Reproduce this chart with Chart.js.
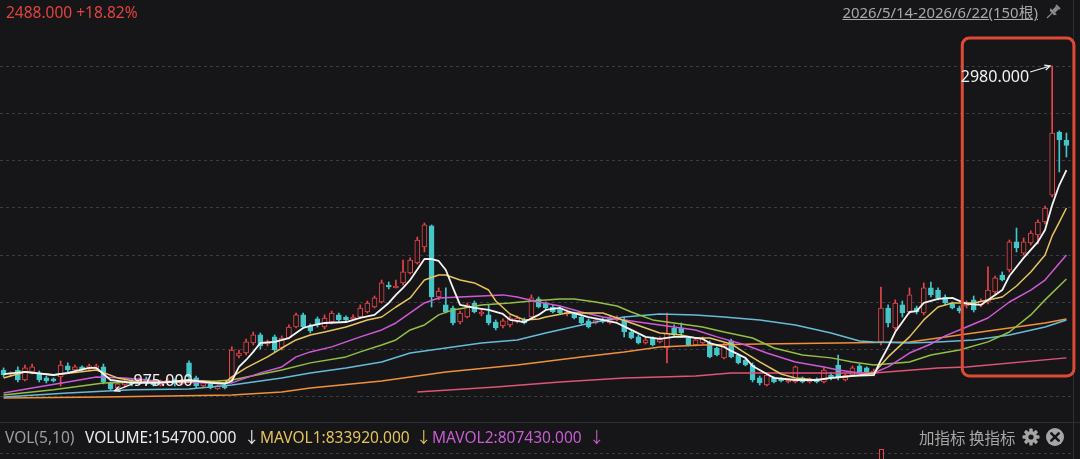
<!DOCTYPE html>
<html><head><meta charset="utf-8">
<script src="https://cdn.jsdelivr.net/npm/chart.js@4.4.1/dist/chart.umd.min.js"></script>
<style>
html,body{margin:0;padding:0;background:#161618;}
#wrap{position:relative;width:1080px;height:459px;overflow:hidden;background:#161618;font-family:"Noto Sans","Noto Sans CJK SC",sans-serif;}
canvas{position:absolute;left:0;top:0;}
.t{position:absolute;white-space:nowrap;font-size:15.5px;line-height:20px;}
svg{position:absolute;}
</style></head><body>
<div id="wrap">
<canvas id="c" width="1080" height="459"></canvas>
<div class="t" style="left:6px;top:2px;color:#e2443f;">2488.000 +18.82%</div>
<div class="t" style="right:42px;top:2px;color:#a8a8a8;text-decoration:underline;font-size:14.9px;">2026/5/14-2026/6/22(150根)</div>
<svg style="left:1044px;top:3px" width="18" height="18" viewBox="0 0 18 18">
  <g transform="rotate(45 9 9)" fill="#8c8c8c">
    <rect x="6" y="1" width="6" height="2" rx="1"/>
    <rect x="7" y="3" width="4" height="5"/>
    <path d="M4.5 8 H13.5 L12 10.5 H6 Z"/>
    <rect x="8.4" y="10.5" width="1.2" height="7"/>
  </g>
</svg>
<div class="t" style="left:5px;top:427px;color:#9e9e9e">VOL(5,10)</div>
<div class="t" style="left:85px;top:427px;color:#ececec">VOLUME:154700.000</div>
<div class="t" style="left:244px;top:427px;color:#ececec">↓</div>
<div class="t" style="left:260px;top:427px;color:#e3c35a">MAVOL1:833920.000</div>
<div class="t" style="left:416px;top:427px;color:#e3c35a">↓</div>
<div class="t" style="left:432px;top:427px;color:#c75cd2">MAVOL2:807430.000</div>
<div class="t" style="left:589px;top:427px;color:#c75cd2">↓</div>
<div class="t" style="left:919px;top:427px;color:#a6a6a6;font-family:'Noto Sans CJK SC',sans-serif;">加指标 换指标</div>
<svg style="left:1022px;top:428px" width="18" height="18" viewBox="0 0 18 18">
  <g fill="#a6a6a6">
    <circle cx="9" cy="9" r="6"/>
    <rect x="7.3" y="0.5" width="3.4" height="17" rx="0.8"/>
    <rect x="7.3" y="0.5" width="3.4" height="17" rx="0.8" transform="rotate(45 9 9)"/>
    <rect x="7.3" y="0.5" width="3.4" height="17" rx="0.8" transform="rotate(90 9 9)"/>
    <rect x="7.3" y="0.5" width="3.4" height="17" rx="0.8" transform="rotate(135 9 9)"/>
  </g>
  <circle cx="9" cy="9" r="2.6" fill="#161618"/>
</svg>
<svg style="left:1045px;top:427px" width="20" height="20" viewBox="0 0 20 20">
  <circle cx="10" cy="10" r="9" fill="#a6a6a6"/>
  <path d="M6.3 6.3 L13.7 13.7 M13.7 6.3 L6.3 13.7" stroke="#161618" stroke-width="2.6" stroke-linecap="round"/>
</svg>
</div>
<script>
// ---- candle data (150 bars) ----
const opens = [1098,1073,1098,1036,1086,1080,1049,1043,1055,1123,
1098,1117,1104,1104,1117,1018,987,1005,1030,1012,
1043,1024,1005,1018,1036,1012,1142,1049,999,1012,
981,999,1049,1185,1203,1265,1315,1259,1303,1234,
1296,1364,1439,1371,1414,1364,1395,1439,1426,1414,
1426,1457,1488,1519,1624,1606,1637,1699,1761,1860,
1990,1550,1501,1482,1395,1426,1513,1445,1439,1395,
1371,1377,1402,1408,1426,1538,1513,1488,1482,1445,
1445,1426,1402,1389,1408,1389,1408,1408,1333,1303,
1265,1296,1272,1234,1358,1358,1296,1253,1265,1265,
1234,1173,1278,1191,1160,1129,1049,1005,1049,1043,
1024,1024,1049,1024,1043,1024,1067,1129,1036,1067,
1123,1111,1073,1272,1482,1358,1501,1457,1482,1451,
1606,1593,1550,1507,1482,1494,1532,1501,1519,1581,
1686,1717,1891,1822,1884,1934,2014,2181,2571,2522];
const highs = [1111,1086,1117,1129,1135,1092,1061,1049,1154,1142,
1129,1123,1135,1135,1135,1024,1018,1043,1043,1049,
1055,1036,1036,1049,1043,1043,1154,1061,1030,1018,
1005,1005,1241,1222,1290,1333,1327,1284,1315,1309,
1377,1451,1451,1383,1426,1439,1463,1451,1433,1439,
1501,1525,1556,1655,1643,1655,1779,1792,1921,2008,
1996,1606,1606,1494,1463,1513,1525,1470,1501,1408,
1414,1433,1433,1420,1563,1550,1519,1501,1494,1470,
1457,1439,1414,1420,1420,1433,1433,1426,1346,1315,
1296,1303,1303,1451,1377,1389,1303,1290,1303,1278,
1241,1265,1290,1197,1166,1142,1061,1080,1055,1049,
1043,1123,1055,1049,1049,1111,1080,1191,1073,1123,
1135,1117,1104,1612,1501,1532,1525,1606,1494,1637,
1643,1606,1563,1519,1494,1525,1556,1538,1736,1680,
1705,1903,1977,1915,1959,2027,2113,2980,2578,2565];
const lows = [1055,1061,1024,1030,1073,1024,1018,1024,999,1086,
1092,1092,1092,1098,1012,975,981,993,999,1005,
1005,999,999,1005,999,1005,1043,987,987,981,
978,981,1036,1173,1191,1253,1228,1247,1210,1222,
1290,1358,1358,1327,1364,1352,1383,1402,1402,1408,
1420,1451,1482,1513,1600,1606,1624,1692,1754,1829,
1488,1532,1451,1377,1383,1420,1451,1433,1377,1346,
1358,1364,1389,1383,1414,1482,1476,1451,1445,1433,
1414,1383,1358,1383,1389,1383,1402,1303,1290,1259,
1259,1247,1265,1142,1309,1303,1247,1247,1259,1173,
1185,1166,1173,1135,1123,1024,1005,999,1018,1024,
1018,1018,1018,1018,1018,1018,1036,1036,1030,1061,
1080,1080,1061,1253,1364,1346,1426,1445,1445,1439,
1550,1532,1501,1476,1451,1482,1457,1488,1507,1569,
1649,1705,1829,1810,1872,1878,2002,2169,2324,2417];
const closes = [1067,1080,1036,1111,1117,1036,1030,1030,1129,1098,
1117,1098,1123,1123,1024,981,1012,1030,1012,1036,
1018,1005,1024,1036,1012,1030,1055,999,1018,987,
999,987,1222,1203,1272,1315,1247,1272,1222,1296,
1364,1439,1364,1340,1377,1420,1451,1408,1408,1426,
1482,1513,1544,1637,1612,1618,1705,1779,1903,1996,
1550,1587,1457,1389,1451,1501,1457,1457,1389,1358,
1402,1420,1420,1389,1544,1488,1482,1457,1451,1457,
1420,1389,1364,1408,1395,1420,1420,1333,1296,1265,
1284,1253,1290,1327,1315,1327,1253,1284,1296,1179,
1191,1253,1179,1142,1129,1036,1018,1067,1024,1030,
1036,1117,1024,1043,1024,1098,1049,1049,1067,1111,
1086,1086,1092,1482,1389,1513,1451,1563,1457,1606,
1563,1544,1513,1482,1463,1513,1470,1525,1593,1668,
1655,1891,1853,1891,1946,2014,2101,2565,2522,2488];

// ---- moving average lines as [bar index, value] ----
const ma5 = [[0,1073],[3,1086],[7,1067],[9,1080],[12,1111],[13,1111],[15,1036],[18,1018],[22,1018],[26,1036],[29,1018],[31,1012],[32,1030],[33,1117],[34,1160],[35,1210],[36,1265],[38,1272],[40,1296],[42,1358],[43,1371],[45,1389],[48,1395],[50,1420],[52,1439],[54,1513],[55,1563],[56,1606],[57,1655],[59,1785],[60,1785],[61,1773],[62,1717],[63,1606],[64,1501],[66,1482],[68,1470],[70,1445],[71,1408],[73,1395],[75,1439],[76,1470],[78,1482],[79,1463],[82,1426],[84,1408],[86,1389],[88,1346],[90,1303],[92,1290],[94,1303],[96,1303],[98,1290],[99,1265],[101,1241],[102,1216],[104,1173],[105,1123],[107,1073],[108,1049],[111,1036],[114,1036],[116,1049],[119,1061],[122,1067],[123,1160],[124,1241],[125,1333],[126,1395],[127,1457],[128,1463],[129,1513],[131,1538],[133,1544],[135,1507],[137,1501],[138,1532],[140,1593],[141,1680],[143,1792],[145,1891],[146,1965],[147,2119],[148,2243],[149,2336]];
const ma10 = [[0,1049],[3,1086],[7,1067],[13,1098],[16,1049],[19,1024],[25,1024],[28,1030],[31,1018],[32,1055],[34,1111],[37,1179],[39,1234],[41,1284],[43,1315],[45,1333],[48,1364],[51,1408],[53,1426],[55,1488],[57,1544],[58,1600],[59,1655],[61,1686],[62,1686],[64,1655],[66,1637],[68,1593],[69,1525],[71,1445],[73,1408],[75,1414],[76,1426],[79,1451],[81,1451],[84,1451],[86,1420],[88,1389],[90,1358],[92,1327],[95,1315],[97,1296],[99,1296],[102,1259],[104,1203],[106,1148],[109,1073],[111,1049],[114,1036],[116,1049],[118,1055],[122,1080],[124,1179],[127,1303],[129,1408],[131,1488],[133,1513],[136,1513],[140,1550],[142,1618],[144,1705],[146,1810],[147,1928],[148,2014],[149,2101]];
const ma20 = [[0,956],[4,987],[9,1024],[13,1055],[17,1049],[23,1024],[32,1018],[36,1080],[39,1117],[41,1179],[43,1210],[46,1241],[48,1272],[50,1303],[53,1346],[55,1389],[57,1451],[59,1513],[61,1544],[64,1550],[67,1556],[70,1563],[72,1550],[75,1519],[78,1494],[81,1457],[84,1426],[86,1414],[90,1389],[93,1371],[97,1346],[100,1303],[104,1253],[107,1203],[111,1148],[115,1117],[117,1098],[120,1080],[122,1080],[124,1117],[127,1203],[130,1259],[132,1309],[135,1364],[138,1420],[141,1519],[144,1593],[146,1655],[149,1810]];
const ma30 = [[0,943],[7,975],[14,1018],[20,1024],[30,1030],[32,1036],[39,1098],[43,1142],[48,1179],[50,1210],[53,1253],[55,1284],[57,1346],[59,1377],[61,1439],[63,1470],[67,1501],[71,1513],[74,1525],[78,1538],[80,1538],[83,1519],[86,1494],[88,1457],[91,1408],[94,1389],[98,1364],[101,1333],[105,1296],[108,1234],[112,1191],[116,1173],[119,1148],[122,1129],[127,1148],[130,1191],[134,1222],[138,1272],[141,1333],[144,1439],[146,1532],[149,1661]];
const ma60 = [[0,931],[9,956],[18,975],[26,981],[32,1005],[39,1049],[43,1080],[48,1111],[53,1148],[57,1203],[59,1216],[63,1241],[67,1265],[72,1284],[76,1327],[81,1377],[83,1395],[87,1426],[92,1445],[97,1439],[101,1426],[106,1408],[111,1377],[116,1327],[120,1278],[122,1272],[127,1265],[131,1272],[136,1284],[141,1315],[146,1364],[149,1408]];
const ma120 = [[0,925],[14,931],[32,943],[39,962],[43,987],[53,1030],[62,1086],[72,1129],[81,1179],[87,1210],[92,1241],[98,1253],[106,1259],[117,1265],[127,1272],[131,1296],[136,1327],[141,1358],[146,1389],[149,1414]];
const ma250 = [[58,962],[69,993],[78,1024],[87,1049],[97,1061],[102,1080],[112,1080],[122,1080],[131,1111],[135,1117],[149,1173]];

// dashed price grid levels, annotated extremes, annotation box
const gridLevels = [2980,2688,2397,2106,1809,1518,1227,936];
const hiIdx = 147, loIdx = 15;
const boxIdx = [134.4, 150.05], boxVal = [1061, 3153];
const volMarkIdx = 123;

const RED = '#e8454a', CYAN = '#45c6c8', BG = '#161618';
const isUp = closes.map((c,i)=>c>=opens[i]);
const wickData = highs.map((h,i)=>({x:i, y:[lows[i], h]}));
const bodyData = opens.map((o,i)=>({x:i, y:[Math.min(o,closes[i]), Math.max(o,closes[i])]}));
const toPts = a => a.map(p=>({x:p[0], y:p[1]}));
const line = (d,c,w) => ({type:'line', data:toPts(d), borderColor:c, borderWidth:w, pointRadius:0, tension:0, order:1, fill:false, borderJoinStyle:'round'});

function arrow(ctx, x1,y1,x2,y2){
  ctx.beginPath(); ctx.moveTo(x1,y1); ctx.lineTo(x2,y2); ctx.stroke();
  const a = Math.atan2(y2-y1, x2-x1), L=6;
  ctx.beginPath();
  ctx.moveTo(x2 - L*Math.cos(a-0.45), y2 - L*Math.sin(a-0.45));
  ctx.lineTo(x2,y2);
  ctx.lineTo(x2 - L*Math.cos(a+0.45), y2 - L*Math.sin(a+0.45));
  ctx.stroke();
}

const deco = {
  id:'deco',
  beforeDatasetsDraw(chart){
    const ctx = chart.ctx, ys = chart.scales.y;
    ctx.save();
    ctx.strokeStyle = '#3a3c42'; ctx.lineWidth = 1; ctx.setLineDash([3,3]);
    gridLevels.forEach(v=>{
      const y = Math.round(ys.getPixelForValue(v))+0.5;
      ctx.beginPath(); ctx.moveTo(0,y); ctx.lineTo(1073,y); ctx.stroke();
    });
    ctx.beginPath(); ctx.moveTo(0,453.5); ctx.lineTo(1073,453.5); ctx.stroke();
    ctx.setLineDash([]);
    ctx.strokeStyle = '#2d2e33';
    ctx.beginPath(); ctx.moveTo(0,422.5); ctx.lineTo(1080,422.5); ctx.stroke();
    ctx.beginPath(); ctx.moveTo(1073.5,0); ctx.lineTo(1073.5,459); ctx.stroke();
    ctx.restore();
  },
  afterDatasetsDraw(chart){
    const ctx = chart.ctx, xs = chart.scales.x, ys = chart.scales.y;
    ctx.save();
    // annotation box
    const bx1 = xs.getPixelForValue(boxIdx[0]), bx2 = xs.getPixelForValue(boxIdx[1]);
    const by1 = ys.getPixelForValue(boxVal[1]), by2 = ys.getPixelForValue(boxVal[0]);
    ctx.strokeStyle = '#df4a37'; ctx.lineWidth = 3;
    ctx.beginPath(); ctx.roundRect(bx1, by1, bx2-bx1, by2-by1, 7); ctx.stroke();
    // extreme labels
    ctx.strokeStyle = '#f2f2f2'; ctx.fillStyle = '#f2f2f2'; ctx.lineWidth = 1.2;
    ctx.font = '16px "Noto Sans", sans-serif'; ctx.textBaseline = 'middle';
    const hx = xs.getPixelForValue(hiIdx) - 2, hy = ys.getPixelForValue(highs[hiIdx]);
    arrow(ctx, hx-20, hy+6, hx, hy);
    ctx.textAlign = 'right'; ctx.fillText(highs[hiIdx].toFixed(3), hx-21, hy+11);
    const lx = xs.getPixelForValue(loIdx) + 4, ly = ys.getPixelForValue(lows[loIdx]) + 1;
    arrow(ctx, lx+18, ly-7, lx, ly);
    ctx.textAlign = 'left'; ctx.fillText(lows[loIdx].toFixed(3), lx+19, ly-9);
    // top of a volume bar peeking into view
    const vx = xs.getPixelForValue(volMarkIdx);
    ctx.strokeStyle = RED; ctx.lineWidth = 1;
    ctx.strokeRect(Math.round(vx-2)+0.5, 449.5, 4, 12);
    ctx.restore();
  }
};

new Chart(document.getElementById('c'), {
  type:'bar',
  data:{ datasets:[
    line(ma5,'#f4f4f4',1.8), line(ma10,'#e6c45e',1.5), line(ma20,'#cf5ad6',1.5),
    line(ma30,'#93bf45',1.5), line(ma60,'#66bcd8',1.5), line(ma120,'#f0913a',1.5), line(ma250,'#e05478',1.5),
    {type:'bar', data:bodyData, backgroundColor:isUp.map(u=>u?BG:CYAN), borderColor:isUp.map(u=>u?RED:CYAN),
     borderWidth:1, borderSkipped:false, barThickness:5, grouped:false, minBarLength:1, order:2},
    {type:'bar', data:wickData, backgroundColor:isUp.map(u=>u?RED:CYAN), borderWidth:0,
     barThickness:1, grouped:false, order:3}
  ]},
  options:{
    responsive:false, animation:false, events:[],
    layout:{padding:{left:0,right:10,top:19,bottom:37}},
    plugins:{legend:{display:false}, tooltip:{enabled:false}},
    scales:{
      x:{type:'linear', min:-0.5, max:149.5, offset:false, display:false},
      y:{min:776, max:3271, display:false}
    }
  },
  plugins:[deco]
});
</script>
</body></html>
